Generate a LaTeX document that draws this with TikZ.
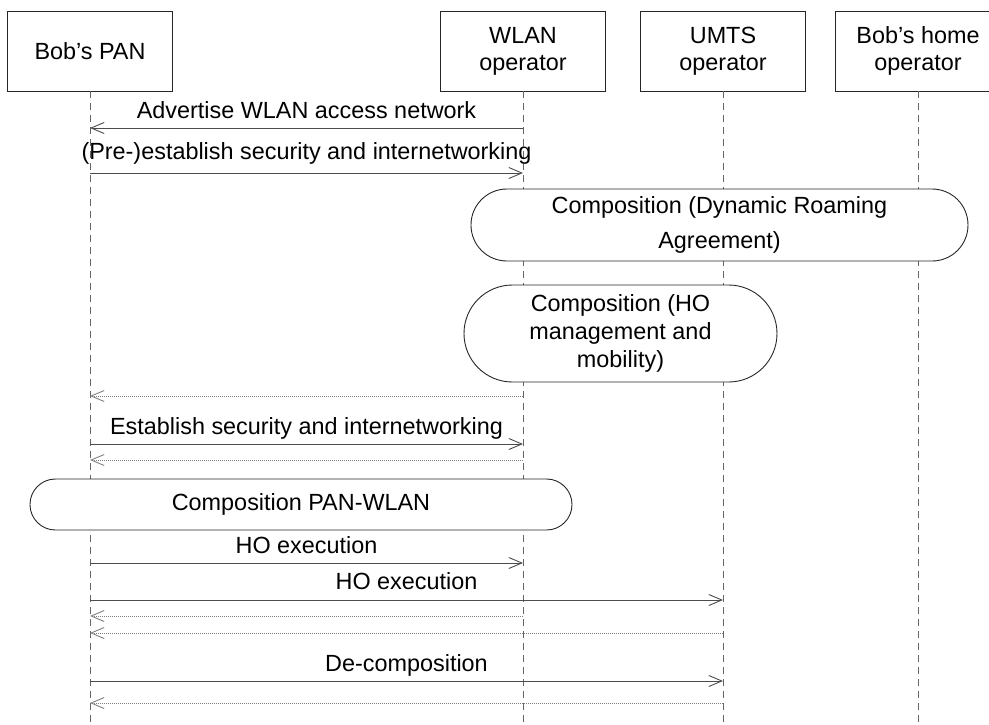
\documentclass[tikz,border=0pt]{standalone}
\usepackage{fontspec}
\setmainfont{Liberation Sans}
\usetikzlibrary{arrows.meta,calc}
\begin{document}
\begin{tikzpicture}[x=1pt,y=-1pt,
  every node/.style={font=\fontsize{23.4}{27}\selectfont, inner sep=0pt, text=black},
  actor/.style={draw=black!85, line width=0.9pt, fill=white, minimum width=165pt, minimum height=80pt, align=center},
  phase/.style={draw=black!85, line width=0.9pt, fill=white, align=center},
  life/.style={draw=black!60, line width=0.9pt, dash pattern=on 7pt off 5pt},
  msg/.style={draw=black!70, line width=0.9pt, -{Straight Barb[length=13pt,width=11pt]}},
  ret/.style={msg, draw=black!50, dash pattern=on 1pt off 1pt},
  lbl/.style={midway, anchor=base, yshift=#1},
  lbl/.default=10pt]
\useasboundingbox (0,0) rectangle (989,724);
% participants
\node[actor] (pan)  at (90,51)  {Bob’s PAN};
\node[actor] (wlan) at (523,51) {WLAN\\operator};
\node[actor] (umts) at (723,51) {UMTS\\operator};
\node[actor] (home) at (918,51) {Bob’s home\\operator};
\coordinate (bot) at (0,726);
% lifelines
\draw[life] (pan.south)  -- (pan.south |- bot);
\draw[life] (wlan.south) -- (wlan.south |- bot);
\draw[life] (umts.south) -- (umts.south |- bot);
\draw[life] (home.south) -- (home.south |- bot);
% message levels
\coordinate (y1) at (0,128);
\coordinate (y2) at (0,173);
\coordinate (y3) at (0,396);
\coordinate (y4) at (0,444);
\coordinate (y5) at (0,460);
\coordinate (y6) at (0,563);
\coordinate (y7) at (0,600);
\coordinate (y8) at (0,616);
\coordinate (y9) at (0,633);
\coordinate (y10) at (0,681);
\coordinate (y11) at (0,703);
% phases
\node[phase, minimum width=497pt, minimum height=72pt, rounded corners=35.9pt,
      font=\fontsize{23.4}{35}\selectfont] (roam) at (719.5,225)
      {Composition (Dynamic Roaming\\Agreement)};
\node[phase, minimum width=313pt, minimum height=97pt, rounded corners=48.4pt,
      font=\fontsize{23.4}{28}\selectfont] (homob) at (620.5,333.5)
      {Composition (HO\\management and\\mobility)};
\node[phase, minimum width=542pt, minimum height=51pt, rounded corners=25.4pt] (panwlan) at (301,504.5)
      {Composition PAN-WLAN};
% messages
\draw[msg] (wlan |- y1) -- node[lbl]{Advertise WLAN access network} (pan |- y1);
\draw[msg] (pan |- y2) -- node[lbl=14pt]{(Pre-)establish security and internetworking} (wlan |- y2);
\draw[ret] (wlan |- y3) -- (pan |- y3);
\draw[msg] (pan |- y4) -- node[lbl]{Establish security and internetworking} (wlan |- y4);
\draw[ret] (wlan |- y5) -- (pan |- y5);
\draw[msg] (pan |- y6) -- node[lbl]{HO execution} (wlan |- y6);
\draw[msg] (pan |- y7) -- node[lbl=11pt]{HO execution} (umts |- y7);
\draw[ret] (wlan |- y8) -- (pan |- y8);
\draw[ret] (umts |- y9) -- (pan |- y9);
\draw[msg] (pan |- y10) -- node[lbl]{De-composition} (umts |- y10);
\draw[ret] (umts |- y11) -- (pan |- y11);
\end{tikzpicture}
\end{document}
